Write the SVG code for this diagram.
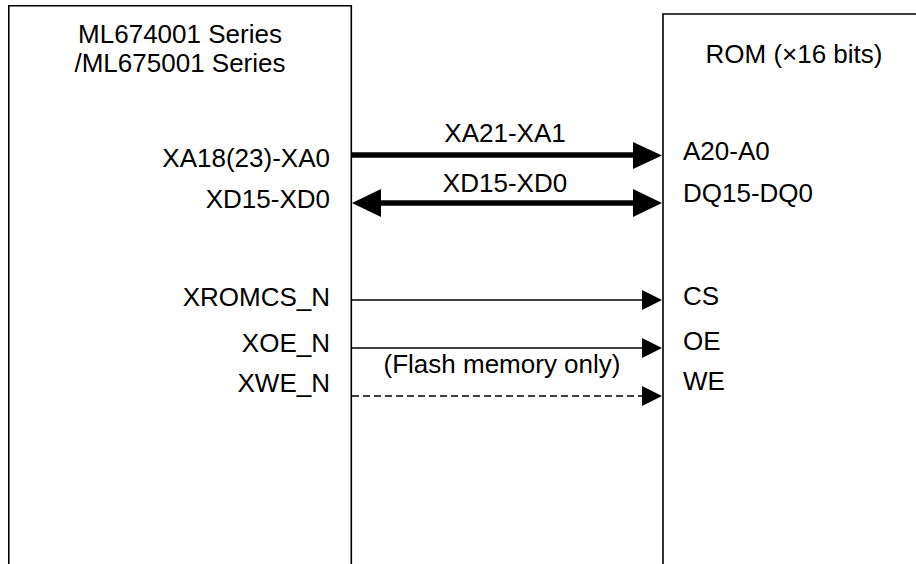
<svg xmlns="http://www.w3.org/2000/svg" width="916" height="564" viewBox="0 0 916 564">
<style>
text{font-family:"Liberation Sans",Arial,sans-serif;font-size:26px;fill:#000}
.box{fill:none;stroke:#000;stroke-width:1.6}
.thick{stroke:#000;stroke-width:5.5;fill:none}
.thin{stroke:#000;stroke-width:1.6;fill:none}
.dash{stroke:#000;stroke-width:1.6;fill:none;stroke-dasharray:7,4}
.r{text-anchor:end}
.m{text-anchor:middle}
</style>
<rect width="916" height="564" fill="#fff"/>
<g id="soc">
<path class="box" d="M8.8,564 V5.8 H351.3 V564"/>
<text class="m" x="180" y="43">ML674001 Series</text>
<text class="m" x="180" y="72">/ML675001 Series</text>
<text class="r" x="330" y="167">XA18(23)-XA0</text>
<text class="r" x="330" y="208">XD15-XD0</text>
<text class="r" x="330" y="306">XROMCS_N</text>
<text class="r" x="330" y="352">XOE_N</text>
<text class="r" x="330" y="392">XWE_N</text>
</g>
<g id="rom">
<path class="box" d="M663,564 V14 H916"/>
<text class="m" x="794" y="63">ROM (×16 bits)</text>
<text x="683" y="160">A20-A0</text>
<text x="683" y="202">DQ15-DQ0</text>
<text x="683" y="305">CS</text>
<text x="683" y="350">OE</text>
<text x="683" y="390">WE</text>
</g>
<g id="connectors">
<line class="thick" x1="352" y1="155" x2="636" y2="155"/>
<polygon points="633,142 662,155.5 633,169"/>
<text class="m" x="505" y="142">XA21-XA1</text>
<line class="thick" x1="378" y1="203" x2="636" y2="203"/>
<polygon points="633,189 662,203 633,217"/>
<polygon points="381,189 352,203 381,217"/>
<text class="m" x="505" y="192">XD15-XD0</text>
<line class="thin" x1="352" y1="300" x2="645" y2="300"/>
<polygon points="642,290 662,300 642,310"/>
<line class="thin" x1="352" y1="348" x2="645" y2="348"/>
<polygon points="642,338 662,348 642,358"/>
<text class="m" x="502" y="373">(Flash memory only)</text>
<line class="dash" x1="352" y1="396" x2="645" y2="396"/>
<polygon points="642,386 662,396 642,406"/>
</g>
</svg>
